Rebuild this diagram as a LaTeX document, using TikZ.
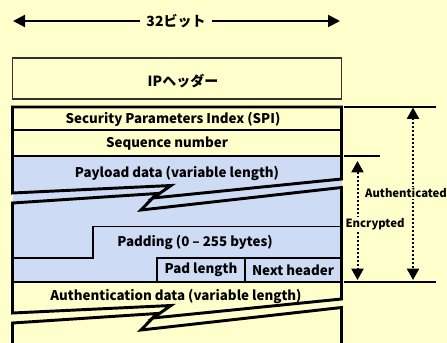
\documentclass[tikz,border=0pt]{standalone}
\usepackage{fontspec}
\setmainfont{Noto Sans CJK JP}
\usetikzlibrary{arrows.meta}
\definecolor{bg}{RGB}{255,255,204}
\definecolor{encblue}{RGB}{206,219,245}
\begin{document}
\begin{tikzpicture}[x=0.75pt,y=-0.75pt,
  lbl/.style={font=\fontsize{10}{11}\selectfont\bfseries, inner sep=0pt},
  jlbl/.style={font=\fontsize{10.5}{11}\selectfont\bfseries, inner sep=0pt},
  tag/.style={font=\fontsize{8.5}{10}\selectfont\bfseries, inner sep=1pt, fill=bg},
  outer/.style={line width=2.2pt, line join=miter},
  innerline/.style={line width=1.1pt},
  leader/.style={line width=0.8pt},
  dotarrow/.style={line width=1.5pt, dash pattern=on 1.6pt off 1.4pt, {Triangle[length=8.5pt,width=9pt]}-{Triangle[length=8.5pt,width=9pt]}}
]
% background / bounding box
\fill[bg] (0,0) rectangle (447,343);
\useasboundingbox (0,0) rectangle (447,343);

% 32 bit arrow
\node[jlbl, minimum width=54pt] (bits) at (176,21) {32ビット};
\coordinate (bl) at (13,21);
\coordinate (br) at (340,21);
\draw[line width=1.5pt, -{Triangle[length=9pt,width=9pt]}] (bits.west) -- (bl);
\draw[line width=1.5pt, -{Triangle[length=9pt,width=9pt]}] (bits.east) -- (br);

% IP header
\draw[line width=0.8pt, draw={rgb,255:red,50;green,50;blue,50}] (12.5,58) rectangle (341.5,99);
\node[jlbl] (ip) at (183,81) {IPヘッダー};

% encrypted fill
\fill[encblue] (12.5,156) rectangle (341.5,282);

% inner lines
\draw[innerline] (12.5,130) -- (341.5,130);
\draw[innerline] (12.5,156) -- (341.5,156);
\draw[innerline] (12.5,258) -- (93,258) -- (93,226.5) -- (341.5,226.5);
\draw[innerline] (157,282) -- (157,258) -- (341.5,258);
\draw[innerline] (245,258) -- (245,282);
\draw[innerline] (12.5,282) -- (341.5,282);

% outer frame with breaks
\draw[outer] (341.5,179) -- (341.5,107) -- (12.5,107) -- (12.5,193) -- (171,185.5) -- (153,198) -- cycle;
\draw[outer] (341.5,187.5) -- (141,210) -- (157,193.5) -- (12.5,203) -- (12.5,313) -- (171,305.5) -- (153,318) -- (341.5,299) -- cycle;
\draw[outer] (341.5,346) -- (341.5,307.5) -- (141,330) -- (157,313.5) -- (12.5,323) -- (12.5,346);

% field labels
\node[lbl] (spi) at (173,119) {Security Parameters Index (SPI)};
\node[lbl] (seq) at (167,144) {Sequence number};
\node[lbl] (pay) at (177,173) {Payload data (variable length)};
\node[lbl] (pad) at (195,242) {Padding (0 – 255 bytes)};
\node[lbl] (padlen) at (201,270) {Pad length};
\node[lbl] (nexth) at (293,270) {Next header};
\node[lbl] (authd) at (176,296) {Authentication data (variable length)};

% leader lines
\coordinate (t1) at (344,107); \coordinate (t2) at (436,107);
\coordinate (m1) at (344,156); \coordinate (m2) at (380,156);
\coordinate (b1) at (344,282); \coordinate (b2) at (436,282);
\draw[leader] (t1) -- (t2);
\draw[leader] (m1) -- (m2);
\draw[leader] (b1) -- (b2);

% dotted arrows
\coordinate (au1) at (413,107.5); \coordinate (au2) at (413,280);
\coordinate (en1) at (357.5,161); \coordinate (en2) at (357.5,280);
\draw[dotarrow] (au1) -- (au2);
\draw[dotarrow] (en1) -- (en2);
\node[tag] (authl) at (406,193) {Authenticated};
\node[tag] (encl) at (375,224) {Encrypted};
\end{tikzpicture}
\end{document}
